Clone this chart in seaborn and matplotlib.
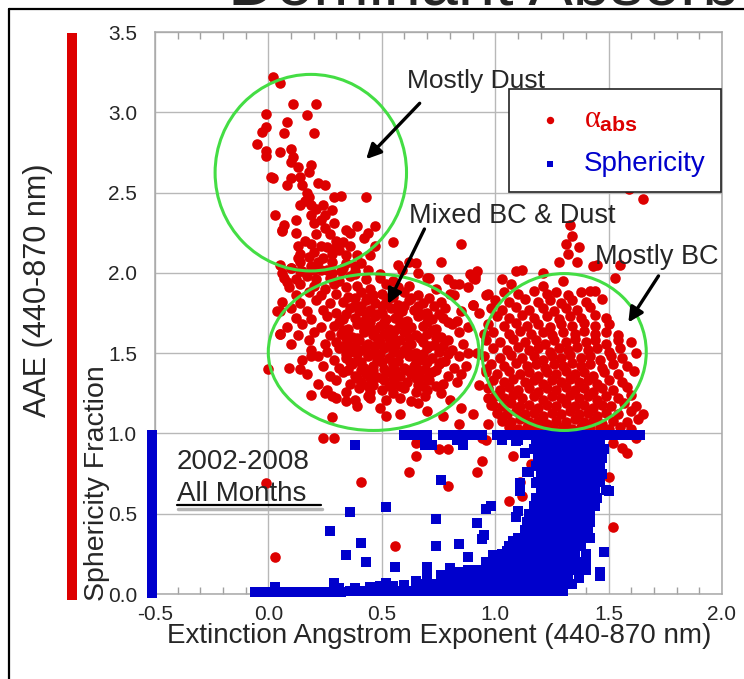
import matplotlib
matplotlib.use("Agg")
import matplotlib.pyplot as plt
import seaborn as sns
import pandas as pd
from matplotlib.patches import Ellipse, Rectangle
from matplotlib.lines import Line2D
from matplotlib.ticker import MultipleLocator

sns.set_style("white")
plt.rcParams["font.family"] = ["Liberation Sans", "DejaVu Sans"]
plt.rcParams["axes.unicode_minus"] = False
plt.rcParams["mathtext.fontset"] = "custom"
plt.rcParams["mathtext.it"] = "Liberation Serif"
plt.rcParams["mathtext.rm"] = "Liberation Serif"
plt.rcParams["mathtext.sf"] = "Liberation Sans:bold"

# ---- absorption Angstrom exponent (AAE) vs extinction Angstrom exponent (EAE) ----
dust_pts = [
    (0.02, 3.22), (0.05, 3.18), (0.11, 3.05), (0.21, 3.05), (-0.01, 2.99), (0.17, 2.98),
    (0.08, 2.94), (-0.01, 2.91), (-0.03, 2.88), (0.07, 2.87), (0.20, 2.87), (-0.05, 2.80),
    (-0.01, 2.76), (-0.01, 2.73), (0.05, 2.75), (0.10, 2.77), (0.11, 2.72), (0.10, 2.69),
    (0.13, 2.66), (0.19, 2.67), (0.18, 2.63), (0.14, 2.60), (0.10, 2.59), (0.01, 2.60),
    (0.02, 2.59), (0.08, 2.55), (0.15, 2.55), (0.22, 2.56), (0.25, 2.55), (0.17, 2.50),
    (0.18, 2.47), (0.29, 2.47), (0.32, 2.48), (0.43, 2.47), (0.14, 2.42), (0.24, 2.42),
    (0.19, 2.42), (0.28, 2.39), (0.03, 2.36), (0.19, 2.36), (0.25, 2.36), (0.07, 2.30),
    (0.12, 2.33), (0.06, 2.27), (0.20, 2.31), (0.29, 2.31), (0.25, 2.28), (0.34, 2.27),
    (0.39, 2.29), (0.47, 2.29), (0.12, 2.25), (0.36, 2.25), (0.44, 2.25), (0.21, 2.24),
    (0.42, 2.22), (0.55, 2.19), (0.19, 2.18), (0.13, 2.17), (0.23, 2.17), (0.26, 2.16),
    (0.31, 2.14), (0.36, 2.17), (0.47, 2.17), (0.14, 2.12), (0.20, 2.13), (0.28, 2.12),
    (0.34, 2.11), (0.39, 2.11), (0.45, 2.11), (0.14, 2.07), (0.22, 2.07), (0.28, 2.07),
    (0.34, 2.06), (0.41, 2.06), (0.57, 2.05), (0.62, 2.07), (0.65, 2.06), (0.05, 2.05),
    (0.06, 2.00), (0.14, 2.01), (0.20, 2.02), (0.26, 2.02), (0.32, 2.01), (0.38, 1.99),
    (0.44, 2.02), (0.49, 1.99), (0.06, 2.26), (0.13, 2.09), (0.85, 2.18), (0.76, 2.07),
    (0.16, 2.45), (0.21, 2.40), (0.23, 2.33), (0.30, 2.20), (0.33, 2.19), (0.16, 2.20),
    (0.27, 2.24), (0.38, 2.04), (0.10, 2.03), (0.18, 2.10), (0.24, 2.09), (0.30, 2.16),
]

mixed_pts = [
    (0.10, 2.03), (0.15, 2.01), (0.19, 2.04), (0.23, 2.02), (0.28, 2.00), (0.33, 2.03),
    (0.38, 2.01), (0.59, 2.02), (0.66, 2.00),
    (0.07, 1.97), (0.12, 1.96), (0.17, 1.98), (0.21, 1.96), (0.27, 1.97), (0.31, 1.95),
    (0.36, 1.98), (0.43, 1.96), (0.49, 1.97), (0.55, 1.95), (0.71, 1.97), (0.79, 1.96), (0.91, 1.98),
    (0.09, 1.91), (0.14, 1.93), (0.20, 1.92), (0.25, 1.90), (0.29, 1.93), (0.34, 1.91),
    (0.39, 1.92), (0.45, 1.90), (0.52, 1.93), (0.57, 1.91), (0.62, 1.92), (0.74, 1.90),
    (0.84, 1.93), (0.88, 1.91),
    (0.12, 1.86), (0.18, 1.88), (0.23, 1.86), (0.30, 1.87), (0.35, 1.85), (0.41, 1.88),
    (0.46, 1.86), (0.50, 1.87), (0.55, 1.85), (0.60, 1.88), (0.66, 1.86), (0.80, 1.87), (0.96, 1.86),
    (0.06, 1.82), (0.14, 1.81), (0.21, 1.83), (0.27, 1.81), (0.33, 1.82), (0.38, 1.80),
    (0.43, 1.83), (0.47, 1.81), (0.52, 1.82), (0.57, 1.80), (0.62, 1.83), (0.68, 1.81),
    (0.76, 1.82), (0.90, 1.80),
    (0.04, 1.76), (0.10, 1.78), (0.17, 1.76), (0.24, 1.77), (0.30, 1.75), (0.36, 1.78),
    (0.40, 1.76), (0.45, 1.77), (0.50, 1.75), (0.54, 1.78), (0.59, 1.76), (0.64, 1.77),
    (0.70, 1.75), (0.78, 1.78), (0.85, 1.76),
    (0.12, 1.72), (0.19, 1.71), (0.26, 1.73), (0.33, 1.71), (0.38, 1.72), (0.42, 1.70),
    (0.47, 1.73), (0.52, 1.71), (0.56, 1.72), (0.61, 1.70), (0.66, 1.73), (0.72, 1.71),
    (0.77, 1.72), (0.83, 1.70),
    (0.08, 1.66), (0.15, 1.68), (0.23, 1.66), (0.29, 1.67), (0.35, 1.65), (0.39, 1.68),
    (0.44, 1.66), (0.49, 1.67), (0.53, 1.65), (0.58, 1.68), (0.63, 1.66), (0.68, 1.67),
    (0.74, 1.65), (0.81, 1.68), (0.88, 1.66),
    (0.05, 1.62), (0.13, 1.61), (0.20, 1.63), (0.27, 1.61), (0.32, 1.62), (0.37, 1.60),
    (0.42, 1.63), (0.46, 1.61), (0.51, 1.62), (0.55, 1.60), (0.60, 1.63), (0.65, 1.61),
    (0.70, 1.62), (0.76, 1.60), (0.84, 1.63),
    (0.10, 1.56), (0.18, 1.58), (0.25, 1.56), (0.30, 1.57), (0.35, 1.55), (0.40, 1.58),
    (0.44, 1.56), (0.49, 1.57), (0.53, 1.55), (0.58, 1.58), (0.63, 1.56), (0.68, 1.57),
    (0.73, 1.55), (0.79, 1.58), (0.86, 1.56),
    (0.19, 1.52), (0.26, 1.51), (0.31, 1.53), (0.36, 1.51), (0.41, 1.52), (0.46, 1.50),
    (0.51, 1.53), (0.55, 1.51), (0.60, 1.52), (0.65, 1.50), (0.70, 1.53), (0.75, 1.51),
    (0.81, 1.52), (0.88, 1.50),
    (0.15, 1.46), (0.22, 1.48), (0.29, 1.46), (0.34, 1.47), (0.39, 1.45), (0.44, 1.48),
    (0.48, 1.46), (0.53, 1.47), (0.57, 1.45), (0.62, 1.48), (0.67, 1.46), (0.72, 1.47),
    (0.78, 1.45), (0.84, 1.48),
    (0.24, 1.42), (0.31, 1.41), (0.37, 1.43), (0.42, 1.41), (0.46, 1.42), (0.51, 1.40),
    (0.55, 1.43), (0.60, 1.41), (0.64, 1.42), (0.69, 1.40), (0.75, 1.43), (0.82, 1.41), (0.87, 1.42),
    (0.17, 1.37), (0.27, 1.36), (0.33, 1.38), (0.38, 1.36), (0.43, 1.37), (0.48, 1.35),
    (0.53, 1.38), (0.58, 1.36), (0.63, 1.37), (0.67, 1.35), (0.72, 1.38), (0.79, 1.36), (0.85, 1.37),
    (0.22, 1.31), (0.30, 1.33), (0.36, 1.31), (0.41, 1.32), (0.46, 1.30), (0.51, 1.33),
    (0.56, 1.31), (0.61, 1.32), (0.66, 1.30), (0.71, 1.33), (0.77, 1.31), (0.83, 1.32),
    (0.26, 1.27), (0.34, 1.26), (0.40, 1.28), (0.45, 1.26), (0.50, 1.27), (0.55, 1.25),
    (0.60, 1.28), (0.65, 1.26), (0.70, 1.27), (0.76, 1.25),
    (0.30, 1.22), (0.38, 1.21), (0.44, 1.23), (0.52, 1.21), (0.58, 1.22), (0.63, 1.20),
    (0.69, 1.23), (0.80, 1.21),
    # dense core of the mixed group
    (0.38, 1.845), (0.44, 1.845), (0.53, 1.845), (0.63, 1.845), (0.71, 1.845),
    (0.41, 1.795), (0.50, 1.795), (0.60, 1.795), (0.66, 1.795), (0.73, 1.795),
    (0.34, 1.745), (0.43, 1.745), (0.48, 1.745), (0.57, 1.745), (0.68, 1.745), (0.75, 1.745),
    (0.31, 1.695), (0.40, 1.695), (0.45, 1.695), (0.51, 1.695), (0.59, 1.695), (0.70, 1.695), (0.79, 1.695),
    (0.33, 1.645), (0.42, 1.645), (0.47, 1.645), (0.56, 1.645), (0.61, 1.645), (0.72, 1.645),
    (0.34, 1.595), (0.39, 1.595), (0.48, 1.595), (0.53, 1.595), (0.62, 1.595), (0.67, 1.595), (0.74, 1.595),
    (0.33, 1.545), (0.38, 1.545), (0.43, 1.545), (0.47, 1.545), (0.56, 1.545), (0.61, 1.545), (0.71, 1.545), (0.77, 1.545),
    (0.34, 1.495), (0.39, 1.495), (0.44, 1.495), (0.49, 1.495), (0.58, 1.495), (0.63, 1.495), (0.68, 1.495), (0.79, 1.495),
    (0.36, 1.445), (0.41, 1.445), (0.50, 1.445), (0.55, 1.445), (0.65, 1.445), (0.70, 1.445), (0.76, 1.445),
    (0.35, 1.395), (0.41, 1.395), (0.46, 1.395), (0.56, 1.395), (0.61, 1.395), (0.66, 1.395), (0.74, 1.395),
    (0.39, 1.345), (0.45, 1.345), (0.50, 1.345), (0.55, 1.345), (0.65, 1.345), (0.70, 1.345),
    (0.44, 1.295), (0.53, 1.295), (0.58, 1.295), (0.68, 1.295), (0.74, 1.295),
    # fringe points
    (0.08, 1.94), (0.05, 1.76), (0.05, 1.62), (0.00, 1.40), (0.09, 1.41), (0.14, 1.40),
    (0.19, 1.48), (0.19, 1.24), (0.25, 1.25), (0.28, 1.23), (0.34, 1.20), (0.39, 1.17),
    (0.45, 1.22), (0.49, 1.16), (0.52, 1.11), (0.58, 1.12), (0.66, 1.19), (0.70, 1.14),
    (0.77, 1.11), (0.28, 1.10), (0.85, 1.16), (0.90, 1.12), (0.99, 1.18), (1.03, 1.10),
    (0.84, 1.06), (0.97, 1.06), (0.82, 1.93), (0.82, 1.86), (0.90, 1.80), (0.97, 1.87),
    (0.91, 1.96), (0.89, 1.99), (0.93, 1.75), (0.95, 1.62), (0.92, 1.50), (0.96, 1.40),
    (0.93, 1.30), (0.97, 1.22), (0.70, 1.97),
]

bc_pts = [
    (1.33, 2.30), (1.34, 2.23), (1.31, 2.18), (1.37, 2.16), (1.32, 2.12), (1.28, 2.07),
    (1.36, 2.07), (1.43, 2.04), (1.45, 2.05), (1.55, 2.05), (1.53, 1.97), (1.42, 1.89),
    (1.44, 1.89), (1.09, 2.01), (1.12, 2.02), (1.21, 2.00), (0.92, 2.01), (0.90, 1.97),
    (1.65, 2.46), (1.59, 2.52), (1.03, 1.96), (1.07, 1.93), (1.21, 1.92), (1.30, 1.95),
    (1.04, 1.88), (1.10, 1.87), (1.17, 1.89), (1.23, 1.87), (1.27, 1.88), (1.32, 1.86), (1.38, 1.88),
    (1.00, 1.83), (1.06, 1.82), (1.13, 1.84), (1.19, 1.82), (1.24, 1.83), (1.29, 1.81),
    (1.34, 1.83), (1.40, 1.82), (1.47, 1.84),
    (0.98, 1.78), (1.03, 1.77), (1.09, 1.79), (1.15, 1.77), (1.21, 1.78), (1.26, 1.76),
    (1.31, 1.78), (1.36, 1.77), (1.42, 1.79),
    (1.01, 1.73), (1.06, 1.72), (1.12, 1.74), (1.17, 1.72), (1.23, 1.73), (1.28, 1.71),
    (1.33, 1.73), (1.38, 1.72), (1.44, 1.74), (1.49, 1.72),
    (0.97, 1.68), (1.04, 1.67), (1.09, 1.69), (1.14, 1.67), (1.19, 1.68), (1.24, 1.66),
    (1.29, 1.68), (1.34, 1.67), (1.39, 1.69), (1.44, 1.67), (1.50, 1.68),
    (0.99, 1.63), (1.06, 1.62), (1.11, 1.64), (1.16, 1.62), (1.21, 1.63), (1.25, 1.61),
    (1.30, 1.63), (1.35, 1.62), (1.39, 1.64), (1.44, 1.62), (1.49, 1.63), (1.54, 1.61),
    (0.96, 1.58), (1.02, 1.57), (1.08, 1.59), (1.13, 1.57), (1.18, 1.58), (1.22, 1.56),
    (1.26, 1.58), (1.31, 1.57), (1.35, 1.59), (1.40, 1.57), (1.44, 1.58), (1.49, 1.56),
    (1.54, 1.58), (1.60, 1.57),
    (0.99, 1.53), (1.05, 1.52), (1.10, 1.54), (1.15, 1.52), (1.19, 1.53), (1.24, 1.51),
    (1.28, 1.53), (1.32, 1.52), (1.36, 1.54), (1.41, 1.52), (1.45, 1.53), (1.50, 1.51),
    (1.55, 1.53), (1.62, 1.50),
    (0.95, 1.48), (1.02, 1.47), (1.07, 1.49), (1.12, 1.47), (1.17, 1.48), (1.21, 1.46),
    (1.25, 1.48), (1.29, 1.47), (1.33, 1.49), (1.38, 1.47), (1.42, 1.48), (1.46, 1.46),
    (1.51, 1.48), (1.56, 1.47),
    (0.98, 1.43), (1.04, 1.42), (1.09, 1.44), (1.14, 1.42), (1.18, 1.43), (1.22, 1.41),
    (1.26, 1.43), (1.30, 1.42), (1.34, 1.44), (1.38, 1.42), (1.42, 1.43), (1.47, 1.41),
    (1.52, 1.43), (1.58, 1.42),
    (0.96, 1.38), (1.01, 1.37), (1.06, 1.39), (1.11, 1.37), (1.15, 1.38), (1.19, 1.36),
    (1.23, 1.38), (1.27, 1.37), (1.31, 1.39), (1.35, 1.37), (1.39, 1.38), (1.43, 1.36),
    (1.48, 1.38), (1.54, 1.37), (1.61, 1.39),
    (0.99, 1.33), (1.04, 1.32), (1.08, 1.34), (1.13, 1.32), (1.17, 1.33), (1.21, 1.31),
    (1.25, 1.33), (1.29, 1.32), (1.33, 1.34), (1.37, 1.32), (1.41, 1.33), (1.45, 1.31),
    (1.50, 1.33), (1.56, 1.32),
    (0.97, 1.28), (1.02, 1.27), (1.06, 1.29), (1.10, 1.27), (1.15, 1.28), (1.19, 1.26),
    (1.23, 1.28), (1.27, 1.27), (1.31, 1.29), (1.35, 1.27), (1.39, 1.28), (1.43, 1.26),
    (1.47, 1.28), (1.52, 1.27), (1.58, 1.29),
    (1.00, 1.23), (1.04, 1.22), (1.08, 1.24), (1.12, 1.22), (1.17, 1.23), (1.21, 1.21),
    (1.25, 1.23), (1.29, 1.22), (1.33, 1.24), (1.37, 1.22), (1.41, 1.23), (1.45, 1.21),
    (1.49, 1.23), (1.54, 1.22), (1.60, 1.24),
    (0.98, 1.18), (1.03, 1.17), (1.07, 1.19), (1.11, 1.17), (1.15, 1.18), (1.19, 1.16),
    (1.23, 1.18), (1.27, 1.17), (1.31, 1.19), (1.35, 1.17), (1.39, 1.18), (1.43, 1.16),
    (1.47, 1.18), (1.51, 1.17), (1.57, 1.19), (1.62, 1.17),
    (1.01, 1.13), (1.05, 1.12), (1.09, 1.14), (1.13, 1.12), (1.17, 1.13), (1.21, 1.11),
    (1.25, 1.13), (1.29, 1.12), (1.33, 1.14), (1.37, 1.12), (1.41, 1.13), (1.45, 1.11),
    (1.49, 1.13), (1.54, 1.12), (1.60, 1.14), (1.65, 1.12),
    (1.03, 1.08), (1.07, 1.07), (1.11, 1.09), (1.15, 1.07), (1.19, 1.08), (1.23, 1.06),
    (1.27, 1.08), (1.31, 1.07), (1.35, 1.09), (1.39, 1.07), (1.43, 1.08), (1.47, 1.06),
    (1.52, 1.08), (1.58, 1.07), (1.63, 1.09),
    (1.06, 1.04), (1.10, 1.03), (1.14, 1.04), (1.18, 1.03), (1.22, 1.04), (1.26, 1.03),
    (1.30, 1.04), (1.34, 1.03), (1.38, 1.04), (1.42, 1.03), (1.46, 1.04), (1.50, 1.03),
    (1.55, 1.04), (1.60, 1.03),
]

low_red_pts = [
    (0.24, 0.97), (0.29, 0.97), (-0.01, 0.69), (0.41, 0.70), (0.03, 0.23), (0.56, 0.30),
    (0.62, 0.76), (0.65, 0.86), (0.65, 0.94), (0.79, 0.67), (0.79, 0.90), (0.75, 0.90),
    (0.96, 0.96), (0.94, 0.83), (0.92, 0.76), (1.08, 0.86), (1.16, 0.81), (1.11, 0.70),
    (1.12, 0.61), (1.06, 0.58), (1.50, 0.73), (1.52, 0.42), (0.66, 0.95), (0.94, 0.97),
    (1.52, 0.94), (1.56, 0.91), (1.58, 0.88), (1.62, 0.97),
]

# ---- sphericity fraction vs EAE ----
sph_top_pts = [
    (0.60, 0.99), (0.63, 0.99), (0.66, 0.99), (0.70, 0.99), (0.77, 0.99), (0.80, 0.99),
    (0.84, 0.99), (0.87, 0.99), (0.91, 0.99), (0.94, 0.99), (1.01, 0.99), (1.04, 0.99),
    (1.07, 0.99), (1.10, 0.99), (1.13, 0.99), (1.16, 0.99), (1.19, 0.99), (1.22, 0.99),
    (1.25, 0.99), (1.28, 0.99), (1.31, 0.99), (1.34, 0.99), (1.37, 0.99), (1.40, 0.99),
    (1.43, 0.99), (1.46, 0.99), (1.49, 0.99), (1.52, 0.99), (1.55, 0.99), (1.58, 0.99),
    (1.61, 0.99), (1.64, 0.99),
    (1.03, 0.96), (1.09, 0.95), (0.83, 0.96), (0.86, 0.93), (0.72, 0.93), (0.69, 0.93),
]

sph_column_pts = [
    (1.18, 0.95), (1.22, 0.95), (1.26, 0.95), (1.30, 0.95), (1.34, 0.95), (1.38, 0.95), (1.42, 0.95), (1.46, 0.95),
    (1.17, 0.90), (1.21, 0.90), (1.25, 0.90), (1.29, 0.90), (1.33, 0.90), (1.37, 0.90), (1.41, 0.90), (1.45, 0.90), (1.48, 0.90),
    (1.19, 0.85), (1.23, 0.85), (1.27, 0.85), (1.31, 0.85), (1.35, 0.85), (1.39, 0.85), (1.43, 0.85), (1.47, 0.85),
    (1.18, 0.80), (1.22, 0.80), (1.26, 0.80), (1.30, 0.80), (1.34, 0.80), (1.38, 0.80), (1.42, 0.80), (1.46, 0.80),
    (1.20, 0.75), (1.24, 0.75), (1.28, 0.75), (1.32, 0.75), (1.36, 0.75), (1.40, 0.75), (1.44, 0.75), (1.47, 0.75),
    (1.19, 0.70), (1.23, 0.70), (1.27, 0.70), (1.31, 0.70), (1.35, 0.70), (1.39, 0.70), (1.43, 0.70), (1.46, 0.70),
    (1.20, 0.65), (1.24, 0.65), (1.28, 0.65), (1.32, 0.65), (1.36, 0.65), (1.40, 0.65), (1.44, 0.65), (1.49, 0.65),
    (1.18, 0.60), (1.22, 0.60), (1.26, 0.60), (1.30, 0.60), (1.34, 0.60), (1.38, 0.60), (1.42, 0.60), (1.45, 0.60),
    (1.17, 0.55), (1.21, 0.55), (1.25, 0.55), (1.29, 0.55), (1.33, 0.55), (1.37, 0.55), (1.41, 0.55), (1.44, 0.55),
    (1.15, 0.50), (1.19, 0.50), (1.23, 0.50), (1.27, 0.50), (1.31, 0.50), (1.35, 0.50), (1.39, 0.50), (1.42, 0.50),
    (1.14, 0.45), (1.18, 0.45), (1.22, 0.45), (1.26, 0.45), (1.30, 0.45), (1.34, 0.45), (1.38, 0.45), (1.42, 0.45),
    (1.13, 0.40), (1.17, 0.40), (1.21, 0.40), (1.25, 0.40), (1.29, 0.40), (1.33, 0.40), (1.37, 0.40), (1.41, 0.40),
    (1.10, 0.35), (1.14, 0.35), (1.18, 0.35), (1.22, 0.35), (1.26, 0.35), (1.30, 0.35), (1.34, 0.35), (1.38, 0.35), (1.42, 0.35),
    (1.06, 0.30), (1.10, 0.30), (1.14, 0.30), (1.18, 0.30), (1.22, 0.30), (1.26, 0.30), (1.30, 0.30), (1.34, 0.30), (1.38, 0.30),
    (1.03, 0.25), (1.07, 0.25), (1.11, 0.25), (1.15, 0.25), (1.19, 0.25), (1.23, 0.25), (1.27, 0.25), (1.31, 0.25), (1.35, 0.25), (1.40, 0.25),
    (0.96, 0.20), (1.00, 0.20), (1.04, 0.20), (1.08, 0.20), (1.12, 0.20), (1.16, 0.20), (1.20, 0.20), (1.24, 0.20), (1.28, 0.20), (1.32, 0.20), (1.36, 0.20), (1.40, 0.20),
    (0.88, 0.15), (0.92, 0.15), (0.96, 0.15), (1.00, 0.15), (1.04, 0.15), (1.08, 0.15), (1.12, 0.15), (1.16, 0.15), (1.20, 0.15), (1.24, 0.15), (1.28, 0.15), (1.32, 0.15), (1.36, 0.15), (1.40, 0.15),
    (0.80, 0.10), (0.84, 0.10), (0.88, 0.10), (0.92, 0.10), (0.96, 0.10), (1.00, 0.10), (1.04, 0.10), (1.08, 0.10), (1.12, 0.10), (1.16, 0.10), (1.20, 0.10), (1.24, 0.10), (1.28, 0.10), (1.32, 0.10), (1.37, 0.10),
    (0.70, 0.06), (0.74, 0.06), (0.78, 0.06), (0.82, 0.06), (0.86, 0.06), (0.90, 0.06), (0.94, 0.06), (0.98, 0.06), (1.02, 0.06), (1.06, 0.06), (1.10, 0.06), (1.14, 0.06), (1.18, 0.06), (1.22, 0.06), (1.26, 0.06), (1.30, 0.06), (1.34, 0.06),
]

sph_base_pts = [
    (-0.06, 0.01), (-0.03, 0.01), (0.01, 0.01), (0.04, 0.01), (0.08, 0.01), (0.11, 0.01),
    (0.15, 0.01), (0.18, 0.01), (0.22, 0.015), (0.25, 0.015), (0.29, 0.015), (0.32, 0.015),
    (0.36, 0.02), (0.39, 0.02), (0.43, 0.02), (0.46, 0.02), (0.50, 0.02), (0.53, 0.02),
    (0.57, 0.02), (0.60, 0.02), (0.64, 0.02), (0.67, 0.02), (0.71, 0.02), (0.74, 0.02),
    (0.78, 0.02), (0.81, 0.02), (0.85, 0.02), (0.88, 0.02), (0.92, 0.02), (0.95, 0.02),
    (0.99, 0.02), (1.02, 0.02), (1.06, 0.02), (1.09, 0.02), (1.13, 0.02), (1.16, 0.02),
    (1.20, 0.02), (1.23, 0.02), (1.27, 0.02), (1.30, 0.02),
    (0.31, 0.04), (0.38, 0.04), (0.45, 0.045), (0.49, 0.05), (0.55, 0.05), (0.60, 0.055), (0.66, 0.06),
    (0.03, 0.045), (0.29, 0.07), (0.52, 0.07), (0.65, 0.08), (0.70, 0.11), (0.76, 0.12),
    (0.80, 0.16), (0.84, 0.14),
]

sph_scatter_pts = [
    (0.38, 0.93), (0.36, 0.51), (0.52, 0.54), (0.27, 0.39), (0.41, 0.32), (0.34, 0.24),
    (0.43, 0.20), (0.56, 0.17), (0.70, 0.17), (0.74, 0.47), (0.74, 0.30), (0.76, 0.71),
    (0.84, 0.31), (0.98, 0.55), (0.96, 0.53), (0.92, 0.44), (0.95, 0.37), (0.94, 0.34),
    (1.10, 0.96), (1.13, 0.88), (1.14, 0.76), (1.10, 0.52), (1.09, 0.48), (1.14, 0.43),
    (1.48, 0.26), (1.46, 0.14), (1.46, 0.11), (0.99, 0.24), (1.05, 0.27), (1.08, 0.33),
    (1.03, 0.19), (1.15, 0.76), (1.11, 0.69), (1.11, 0.64), (1.18, 0.69), (1.18, 0.58),
    (1.50, 0.64), (0.88, 0.23),
]

x_ticks = [-0.5, 0.0, 0.5, 1.0, 1.5, 2.0]
x_tick_labels = ["-0.5", "0.0", "0.5", "1.0", "1.5", "2.0"]
y_ticks = [0.0, 0.5, 1.0, 1.5, 2.0, 2.5, 3.0, 3.5]
y_tick_labels = ["0.0", "0.5", "1.0", "1.5", "2.0", "2.5", "3.0", "3.5"]

RED = "#dd0000"
BLUE = "#0000cc"
GREEN = "#44dd44"

aae = pd.DataFrame(dust_pts + mixed_pts + bc_pts + low_red_pts, columns=["eae", "value"])
sph = pd.DataFrame(sph_top_pts + sph_column_pts + sph_base_pts + sph_scatter_pts,
                   columns=["eae", "value"])

W, H = 744, 679
def fx(px):
    return px / W
def fy(py):
    return 1 - py / H

fig = plt.figure(figsize=(W / 100, H / 100), dpi=100)
ax = fig.add_axes([fx(155), fy(594), 567 / W, 562 / H])

sns.scatterplot(data=aae, x="eae", y="value", ax=ax, color=RED, marker="o", s=58,
                linewidth=0, label=r"$\alpha_{\mathsf{abs}}$", zorder=3, clip_on=False)
sns.scatterplot(data=sph, x="eae", y="value", ax=ax, color=BLUE, marker="s", s=44,
                linewidth=0, label="Sphericity", zorder=4, clip_on=False)

ax.set_xlim(-0.5, 2.0)
ax.set_ylim(0, 3.5)
ax.set_xticks(x_ticks)
ax.set_xticklabels(x_tick_labels)
ax.set_yticks(y_ticks)
ax.set_yticklabels(y_tick_labels)
ax.xaxis.set_minor_locator(MultipleLocator(0.1))
ax.tick_params(axis="x", which="major", length=0, pad=8, labelsize=15)
ax.tick_params(axis="y", which="major", length=0, pad=13, labelsize=15)
ax.tick_params(axis="x", which="minor", direction="in", length=5, width=1,
               color="#a0a0a0", top=True, bottom=True)
ax.set_xlabel("")
ax.set_ylabel("")
ax.grid(True, which="major", color="#b8b8b8", lw=1.0)
ax.set_axisbelow(True)
for sp in ax.spines.values():
    sp.set_color("#a8a8a8")
    sp.set_linewidth(1.1)

# regime outlines
for (cx, cy, w, h) in [(0.187, 2.624, 0.844, 1.224),
                       (0.464, 1.506, 0.929, 0.975),
                       (1.304, 1.507, 0.724, 0.977)]:
    ax.add_patch(Ellipse((cx, cy), w, h, fill=False, ec=GREEN, lw=2.2, zorder=5))

arrow_kw = dict(arrowstyle="-|>", color="black", lw=2.4, mutation_scale=22,
                shrinkA=0, shrinkB=0)
ax.annotate("", xy=(0.431, 2.708), xytext=(0.667, 3.056), arrowprops=arrow_kw, zorder=6)
ax.annotate("", xy=(0.527, 1.806), xytext=(0.688, 2.273), arrowprops=arrow_kw, zorder=6)
ax.annotate("", xy=(1.587, 1.691), xytext=(1.720, 1.981), arrowprops=arrow_kw, zorder=6)
ax.text(0.609, 3.149, "Mostly Dust", fontsize=19, va="baseline", ha="left", zorder=7)
ax.text(0.618, 2.31, "Mixed BC & Dust", fontsize=19.5, va="baseline", ha="left", zorder=7)
ax.text(1.44, 2.056, "Mostly BC", fontsize=19.5, va="baseline", ha="left", zorder=7)

leg = ax.legend(loc="upper left", bbox_to_anchor=(0.624, 0.8986), fontsize=20,
                frameon=True, fancybox=False, framealpha=1, edgecolor="#222222",
                borderpad=0.55, handlelength=1.9, handletextpad=0.25,
                labelspacing=0.6, borderaxespad=0, markerscale=0.7)
leg.get_frame().set_linewidth(1.2)
leg.set_zorder(8)
for t, c in zip(leg.get_texts(), [RED, BLUE]):
    t.set_color(c)
leg.get_texts()[0].set_fontsize(22)

# period note
fig.text(fx(177), fy(469), "2002-2008", fontsize=20, va="baseline", ha="left")
fig.text(fx(177), fy(501), "All Months", fontsize=20, va="baseline", ha="left")
fig.add_artist(Line2D([fx(178), fx(322)], [fy(508.5), fy(508.5)], color="#b5b5b5", lw=2.5))
fig.add_artist(Line2D([fx(177), fx(321)], [fy(505), fy(505)], color="black", lw=1.6))

# axis titles and side colour keys
fig.text(fx(439), fy(636), "Extinction Angstrom Exponent (440-870 nm)", fontsize=20,
         ha="center", va="center")
fig.text(fx(38), fy(290), "AAE (440-870 nm)", fontsize=22, rotation=90,
         ha="center", va="center")
fig.text(fx(97), fy(483), "Sphericity Fraction", fontsize=20.5, rotation=90,
         ha="center", va="center")
fig.add_artist(Rectangle((fx(67), fy(600)), 10 / W, 567 / H, transform=fig.transFigure,
                         color=RED, lw=0))
fig.add_artist(Rectangle((fx(147), fy(598)), 10 / W, 168 / H, transform=fig.transFigure,
                         color=BLUE, lw=0))

# slide frame and heading
fig.add_artist(Line2D([fx(9), fx(9)], [fy(9), 0], color="black", lw=1.6))
fig.add_artist(Line2D([fx(9), 1], [fy(9), fy(9)], color="black", lw=1.6))
fig.text(fx(228), fy(5), "Dominant Absorbing Aerosols", fontsize=48, va="baseline", ha="left")

fig.savefig("out.png", dpi=100)
